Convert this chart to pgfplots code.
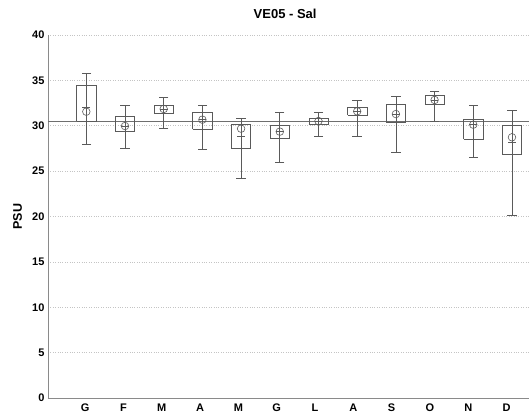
\documentclass[border=0pt]{standalone}
\usepackage{fontspec}
\setmainfont{Liberation Sans}
\usepackage{pgfplots}
\pgfplotsset{compat=1.18}

\definecolor{boxc}{HTML}{5A5A5A}
\definecolor{axc}{HTML}{8A8A8A}
\definecolor{gridc}{HTML}{C4C4C4}
\definecolor{refc}{HTML}{6E6E6E}

\begin{document}
\begin{tikzpicture}
\begin{axis}[
  at={(0,0)}, anchor=south west,
  scale only axis,
  width=481pt, height=363pt,
  xmin=-0.99, xmax=11.44,
  ymin=0, ymax=40,
  axis lines*=left,
  axis line style={draw=axc, line width=0.7pt, -},
  major tick length=0pt,
  ytick={0,5,...,40},
  xtick={-0.03,0.96,1.95,2.94,3.93,4.92,5.91,6.90,7.89,8.88,9.87,10.86},
  xticklabels={G,F,M,A,M,G,L,A,S,O,N,D},
  ymajorgrids,
  grid style={draw=gridc, dotted, line width=0.6pt},
  /pgf/number format/assume math mode=true,
  tick label style={font=\fontsize{11}{13}\selectfont\bfseries},
  xticklabel style={yshift=-2pt},
  ylabel={PSU},
  ylabel style={at={(axis description cs:-0.063,0.5)}, anchor=center,
    font=\fontsize{12.5}{14}\selectfont\bfseries},
  title={VE05 - Sal},
  title style={at={(axis description cs:0.493,1.043)}, anchor=center,
    font=\fontsize{13}{15}\selectfont\bfseries},
  unbounded coords=jump,
  clip=false,
]

% overall reference level
\addplot[draw=refc, line width=0.7pt] coordinates {(-0.99,30.5) (11.44,30.5)};

% whiskers (lower to upper whisker), capped at both ends
\addplot[draw=boxc, line width=0.6pt, mark=-, mark size=4.7pt,
         mark options={solid, draw=boxc}]
  coordinates {
  (0,27.95) (0,35.78) (nan,nan)
  (1,27.51) (1,32.25) (nan,nan)
  (2,29.72) (2,33.17) (nan,nan)
  (3,27.40) (3,32.21) (nan,nan)
  (4,24.20) (4,30.78) (nan,nan)
  (5,26.00) (5,31.48) (nan,nan)
  (6,28.80) (6,31.48) (nan,nan)
  (7,28.83) (7,32.80) (nan,nan)
  (8,27.07) (8,33.28) (nan,nan)
  (9,30.45) (9,33.83) (nan,nan)
  (10,26.52) (10,32.29) (nan,nan)
  (11,20.17) (11,31.70)
  };

% boxes (lower quartile to upper quartile), half width 0.25
\addplot[draw=boxc, line width=0.6pt, mark=none]
  coordinates {
  (-0.25,30.52) (0.25,30.52) (0.25,34.49) (-0.25,34.49) (-0.25,30.52) (nan,nan)
  (0.75,29.38) (1.25,29.38) (1.25,31.04) (0.75,31.04) (0.75,29.38) (nan,nan)
  (1.75,31.33) (2.25,31.33) (2.25,32.25) (1.75,32.25) (1.75,31.33) (nan,nan)
  (2.75,29.60) (3.25,29.60) (3.25,31.44) (2.75,31.44) (2.75,29.60) (nan,nan)
  (3.75,27.48) (4.25,27.48) (4.25,30.16) (3.75,30.16) (3.75,27.48) (nan,nan)
  (4.75,28.65) (5.25,28.65) (5.25,30.08) (4.75,30.08) (4.75,28.65) (nan,nan)
  (5.75,30.16) (6.25,30.16) (6.25,30.82) (5.75,30.82) (5.75,30.16) (nan,nan)
  (6.75,31.15) (7.25,31.15) (7.25,31.99) (6.75,31.99) (6.75,31.15) (nan,nan)
  (7.75,30.41) (8.25,30.41) (8.25,32.40) (7.75,32.40) (7.75,30.41) (nan,nan)
  (8.75,32.36) (9.25,32.36) (9.25,33.36) (8.75,33.36) (8.75,32.36) (nan,nan)
  (9.75,28.54) (10.25,28.54) (10.25,30.67) (9.75,30.67) (9.75,28.54) (nan,nan)
  (10.75,26.89) (11.25,26.89) (11.25,30.05) (10.75,30.05) (10.75,26.89)
  };

% medians
\addplot[only marks, mark=-, mark size=3.9pt, mark options={draw=boxc, line width=0.6pt}]
  coordinates {
  (0,32.00) (1,29.97) (2,31.85) (3,30.67) (4,28.85) (5,29.35)
  (6,30.52) (7,31.59) (8,31.29) (9,32.84) (10,30.12) (11,28.20)
  };

% monthly means
\addplot[only marks, mark=o, mark size=3.8pt, mark options={draw=boxc, line width=0.6pt}]
  coordinates {
  (0,31.55) (1,29.97) (2,31.85) (3,30.67) (4,29.68) (5,29.35)
  (6,30.52) (7,31.59) (8,31.29) (9,32.84) (10,30.12) (11,28.73)
  };
\end{axis}
\pgfresetboundingbox
\useasboundingbox (-48pt,-19pt) rectangle (481pt,398pt);
\end{tikzpicture}
\end{document}
